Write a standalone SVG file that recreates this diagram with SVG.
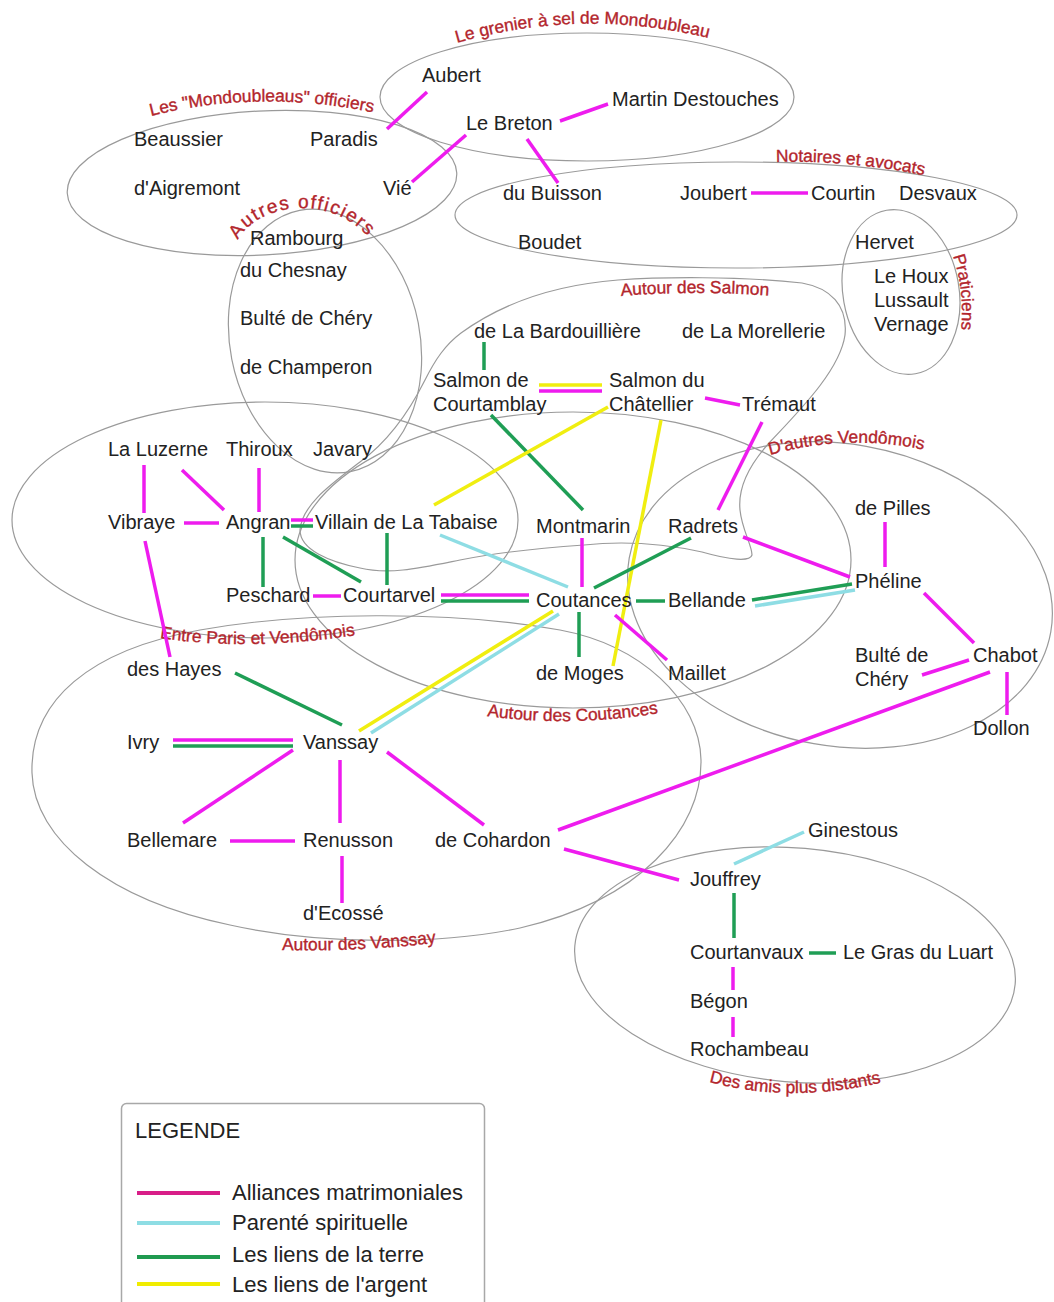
<svg xmlns="http://www.w3.org/2000/svg" width="1054" height="1302" viewBox="0 0 1054 1302">
<style>
.bg{fill:#fff}
.el{fill:none;stroke:#9a9a9a;stroke-width:1.2}
.n{font-family:"Liberation Sans",Arial,sans-serif;font-size:20px;fill:#222}
.lb{font-family:"Liberation Sans",Arial,sans-serif;font-size:17.4px;fill:#b3252c;stroke:#b3252c;stroke-width:0.35}
.e{fill:none;stroke-width:3.5;stroke-linecap:butt}
.m{stroke:#ee1cee}
.c{stroke:#8edde4}
.g{stroke:#1f9e55}
.y{stroke:#f0ee10}
.lg{font-family:"Liberation Sans",Arial,sans-serif;font-size:22px;fill:#222}
</style>
<defs>
<path id="p1" d="M 457 43 Q 585 6 716 40"/>
<path id="p2" d="M 151 116 Q 262 88 380 114"/>
<path id="p3" d="M 776 162 Q 850 160 928 176"/>
<path id="p4" d="M 953 256 Q 966 295 960 340"/>
<path id="p5" d="M 238 240 C 258 203 335 190 376 246"/>
<path id="p6" d="M 621 296 Q 695 290 774 296"/>
<path id="p7" d="M 770 455 Q 850 432 934 452"/>
<path id="p8" d="M 160 638 Q 250 652 364 634"/>
<path id="p9" d="M 487 716 Q 573 728 666 712"/>
<path id="p10" d="M 282 950 Q 360 952 444 942"/>
<path id="p11" d="M 709 1082 Q 795 1105 892 1080"/>
</defs>
<rect class="bg" x="0" y="0" width="1054" height="1302"/>

<g id="groups">
<ellipse class="el" cx="587" cy="97" rx="207" ry="64"/>
<ellipse class="el" cx="262" cy="183" rx="195" ry="72" transform="rotate(-3 262 183)"/>
<ellipse class="el" cx="736" cy="215" rx="281" ry="53"/>
<ellipse class="el" cx="901" cy="292" rx="58" ry="83" transform="rotate(-10 901 292)"/>
<ellipse class="el" cx="325" cy="341" rx="95" ry="133" transform="rotate(-11 325 341)"/>
<path class="el" d="M 461 333 C 490 312 540 286 618 280 C 660 277 740 276 802 283 C 830 288 848 305 845 335 C 840 370 800 410 770 442 C 748 466 738 490 740 510 C 742 530 752 545 752 555 C 750 562 730 560 702 552 C 670 545 630 540 584 545 C 540 548 500 552 460 560 C 420 568 390 575 360 568 C 330 562 300 550 300 530 C 302 505 330 485 360 462 C 390 440 410 410 425 380 C 435 360 445 345 461 333 Z"/>
<ellipse class="el" cx="265" cy="520" rx="253" ry="118"/>
<ellipse class="el" cx="573" cy="560" rx="278" ry="148"/>
<ellipse class="el" cx="840" cy="595" rx="214" ry="151" transform="rotate(10 840 595)"/>
<path class="el" d="M 32 773 C 30 700 90 650 200 630 C 300 612 450 610 560 630 C 640 645 700 700 701 760 C 702 830 640 900 520 928 C 440 945 320 945 230 925 C 110 900 34 840 32 773 Z"/>
<ellipse class="el" cx="795" cy="965" rx="221" ry="117" transform="rotate(5 795 965)"/>
</g>

<g id="group-labels">
<text class="lb"><textPath href="#p1">Le grenier à sel de Mondoubleau</textPath></text>
<text class="lb"><textPath href="#p2">Les "Mondoubleaus" officiers</textPath></text>
<text class="lb"><textPath href="#p3">Notaires et avocats</textPath></text>
<text class="lb" style="font-size:17px"><textPath href="#p4">Praticiens</textPath></text>
<text class="lb" style="font-size:19px;letter-spacing:1.5px"><textPath href="#p5">Autres officiers</textPath></text>
<text class="lb"><textPath href="#p6">Autour des Salmon</textPath></text>
<text class="lb"><textPath href="#p7">D'autres Vendômois</textPath></text>
<text class="lb"><textPath href="#p8">Entre Paris et Vendômois</textPath></text>
<text class="lb"><textPath href="#p9">Autour des Coutances</textPath></text>
<text class="lb"><textPath href="#p10">Autour des Vanssay</textPath></text>
<text class="lb"><textPath href="#p11">Des amis plus distants</textPath></text>
</g>

<g id="connectors">
<line class="e m" x1="427" y1="92" x2="387" y2="129"/>
<line class="e m" x1="466" y1="135" x2="412" y2="182"/>
<line class="e m" x1="560" y1="121" x2="608" y2="104"/>
<line class="e m" x1="527" y1="139" x2="558" y2="183"/>
<line class="e m" x1="751" y1="193" x2="808" y2="193"/>
<line class="e m" x1="144" y1="465" x2="144" y2="513"/>
<line class="e m" x1="182" y1="470" x2="224" y2="510"/>
<line class="e m" x1="259" y1="468" x2="259" y2="512"/>
<line class="e m" x1="184" y1="523" x2="219" y2="523"/>
<line class="e m" x1="291" y1="520" x2="313" y2="520"/>
<line class="e g" x1="291" y1="526" x2="313" y2="526"/>
<line class="e g" x1="263" y1="537" x2="263" y2="587"/>
<line class="e g" x1="283" y1="537" x2="361" y2="582"/>
<line class="e m" x1="145" y1="541" x2="170" y2="657"/>
<line class="e m" x1="313" y1="596" x2="341" y2="596"/>
<line class="e g" x1="484" y1="342" x2="484" y2="370"/>
<line class="e y" x1="539" y1="385" x2="602" y2="385"/>
<line class="e m" x1="539" y1="391" x2="602" y2="391"/>
<line class="e g" x1="491" y1="415" x2="583" y2="510"/>
<line class="e y" x1="608" y1="407" x2="434" y2="505"/>
<line class="e y" x1="661" y1="420" x2="613" y2="666"/>
<line class="e g" x1="387" y1="533" x2="387" y2="585"/>
<line class="e c" x1="440" y1="535" x2="568" y2="587"/>
<line class="e m" x1="582" y1="538" x2="582" y2="587"/>
<line class="e g" x1="691" y1="538" x2="594" y2="588"/>
<line class="e m" x1="441" y1="595" x2="529" y2="595"/>
<line class="e g" x1="441" y1="601" x2="529" y2="601"/>
<line class="e g" x1="636" y1="601" x2="665" y2="601"/>
<line class="e g" x1="579" y1="612" x2="579" y2="657"/>
<line class="e y" x1="553" y1="611" x2="359" y2="731"/>
<line class="e c" x1="559" y1="614" x2="371" y2="733"/>
<line class="e m" x1="615" y1="615" x2="667" y2="660"/>
<line class="e m" x1="705" y1="398" x2="740" y2="405"/>
<line class="e m" x1="762" y1="422" x2="718" y2="510"/>
<line class="e m" x1="743" y1="537" x2="850" y2="577"/>
<line class="e g" x1="752" y1="600" x2="852" y2="584"/>
<line class="e c" x1="755" y1="606" x2="855" y2="590"/>
<line class="e m" x1="885" y1="522" x2="885" y2="567"/>
<line class="e m" x1="924" y1="593" x2="974" y2="643"/>
<line class="e m" x1="922" y1="675" x2="969" y2="660"/>
<line class="e m" x1="990" y1="672" x2="558" y2="830"/>
<line class="e m" x1="1007" y1="672" x2="1007" y2="715"/>
<line class="e c" x1="804" y1="832" x2="734" y2="864"/>
<line class="e g" x1="734" y1="893" x2="734" y2="938"/>
<line class="e g" x1="809" y1="953" x2="836" y2="953"/>
<line class="e m" x1="733" y1="967" x2="733" y2="990"/>
<line class="e m" x1="733" y1="1017" x2="733" y2="1037"/>
<line class="e m" x1="387" y1="752" x2="484" y2="825"/>
<line class="e m" x1="564" y1="849" x2="679" y2="880"/>
<line class="e g" x1="235" y1="673" x2="342" y2="725"/>
<line class="e m" x1="173" y1="740" x2="293" y2="740"/>
<line class="e g" x1="173" y1="746" x2="293" y2="746"/>
<line class="e m" x1="293" y1="750" x2="183" y2="823"/>
<line class="e m" x1="340" y1="760" x2="340" y2="823"/>
<line class="e m" x1="230" y1="841" x2="295" y2="841"/>
<line class="e m" x1="342" y1="856" x2="342" y2="903"/>
</g>

<g id="n-aubert"><text class="n" x="422" y="82">Aubert</text></g>
<g id="n-martin-destouches"><text class="n" x="612" y="106">Martin Destouches</text></g>
<g id="n-le-breton"><text class="n" x="466" y="130">Le Breton</text></g>
<g id="n-paradis"><text class="n" x="310" y="146">Paradis</text></g>
<g id="n-beaussier"><text class="n" x="134" y="146">Beaussier</text></g>
<g id="n-aigremont"><text class="n" x="134" y="195">d'Aigremont</text></g>
<g id="n-vie"><text class="n" x="383" y="195">Vié</text></g>
<g id="n-du-buisson"><text class="n" x="503" y="200">du Buisson</text></g>
<g id="n-joubert"><text class="n" x="680" y="200">Joubert</text></g>
<g id="n-courtin"><text class="n" x="811" y="200">Courtin</text></g>
<g id="n-desvaux"><text class="n" x="899" y="200">Desvaux</text></g>
<g id="n-boudet"><text class="n" x="518" y="249">Boudet</text></g>
<g id="n-hervet"><text class="n" x="855" y="249">Hervet</text></g>
<g id="n-le-houx"><text class="n" x="874" y="283">Le Houx</text></g>
<g id="n-lussault"><text class="n" x="874" y="307">Lussault</text></g>
<g id="n-vernage"><text class="n" x="874" y="331">Vernage</text></g>
<g id="n-rambourg"><text class="n" x="250" y="245">Rambourg</text></g>
<g id="n-du-chesnay"><text class="n" x="240" y="277">du Chesnay</text></g>
<g id="n-bulte-1"><text class="n" x="240" y="325">Bulté de Chéry</text></g>
<g id="n-champeron"><text class="n" x="240" y="374">de Champeron</text></g>
<g id="n-bardouilliere"><text class="n" x="474" y="338">de La Bardouillière</text></g>
<g id="n-morellerie"><text class="n" x="682" y="338">de La Morellerie</text></g>
<g id="n-salmon-courtamblay"><text class="n" x="433" y="387">Salmon de<tspan x="433" y="411">Courtamblay</tspan></text></g>
<g id="n-salmon-chatellier"><text class="n" x="609" y="387">Salmon du<tspan x="609" y="411">Châtellier</tspan></text></g>
<g id="n-tremaut"><text class="n" x="742" y="411">Trémaut</text></g>
<g id="n-la-luzerne"><text class="n" x="108" y="456">La Luzerne</text></g>
<g id="n-thiroux"><text class="n" x="226" y="456">Thiroux</text></g>
<g id="n-javary"><text class="n" x="313" y="456">Javary</text></g>
<g id="n-vibraye"><text class="n" x="108" y="529">Vibraye</text></g>
<g id="n-angran"><text class="n" x="226" y="529">Angran</text></g>
<g id="n-villain"><text class="n" x="315" y="529">Villain de La Tabaise</text></g>
<g id="n-montmarin"><text class="n" x="536" y="533">Montmarin</text></g>
<g id="n-radrets"><text class="n" x="668" y="533">Radrets</text></g>
<g id="n-de-pilles"><text class="n" x="855" y="515">de Pilles</text></g>
<g id="n-pheline"><text class="n" x="855" y="588">Phéline</text></g>
<g id="n-peschard"><text class="n" x="226" y="602">Peschard</text></g>
<g id="n-courtarvel"><text class="n" x="343" y="602">Courtarvel</text></g>
<g id="n-coutances"><text class="n" x="536" y="607">Coutances</text></g>
<g id="n-bellande"><text class="n" x="668" y="607">Bellande</text></g>
<g id="n-des-hayes"><text class="n" x="127" y="676">des Hayes</text></g>
<g id="n-de-moges"><text class="n" x="536" y="680">de Moges</text></g>
<g id="n-maillet"><text class="n" x="668" y="680">Maillet</text></g>
<g id="n-bulte-2"><text class="n" x="855" y="662">Bulté de<tspan x="855" y="686">Chéry</tspan></text></g>
<g id="n-chabot"><text class="n" x="973" y="662">Chabot</text></g>
<g id="n-dollon"><text class="n" x="973" y="735">Dollon</text></g>
<g id="n-ivry"><text class="n" x="127" y="749">Ivry</text></g>
<g id="n-vanssay"><text class="n" x="303" y="749">Vanssay</text></g>
<g id="n-bellemare"><text class="n" x="127" y="847">Bellemare</text></g>
<g id="n-renusson"><text class="n" x="303" y="847">Renusson</text></g>
<g id="n-cohardon"><text class="n" x="435" y="847">de Cohardon</text></g>
<g id="n-ecosse"><text class="n" x="303" y="920">d'Ecossé</text></g>
<g id="n-ginestous"><text class="n" x="808" y="837">Ginestous</text></g>
<g id="n-jouffrey"><text class="n" x="690" y="886">Jouffrey</text></g>
<g id="n-courtanvaux"><text class="n" x="690" y="959">Courtanvaux</text></g>
<g id="n-le-gras"><text class="n" x="843" y="959">Le Gras du Luart</text></g>
<g id="n-begon"><text class="n" x="690" y="1008">Bégon</text></g>
<g id="n-rochambeau"><text class="n" x="690" y="1056">Rochambeau</text></g>

<g id="legend">
<rect x="121.5" y="1103.5" width="363" height="215" rx="5" fill="#fff" stroke="#a8a8a8" stroke-width="1.5"/>
<text class="lg" x="135" y="1138">LEGENDE</text>
<line x1="137" y1="1193" x2="220" y2="1193" stroke="#d81e88" stroke-width="4"/>
<line x1="137" y1="1223" x2="220" y2="1223" stroke="#8edde4" stroke-width="4"/>
<line x1="137" y1="1257" x2="220" y2="1257" stroke="#1f9a50" stroke-width="4"/>
<line x1="137" y1="1284" x2="220" y2="1284" stroke="#f0ec00" stroke-width="4"/>
<text class="lg" x="232" y="1200">Alliances matrimoniales</text>
<text class="lg" x="232" y="1230">Parenté spirituelle</text>
<text class="lg" x="232" y="1262">Les liens de la terre</text>
<text class="lg" x="232" y="1292">Les liens de l'argent</text>
</g>
</svg>
